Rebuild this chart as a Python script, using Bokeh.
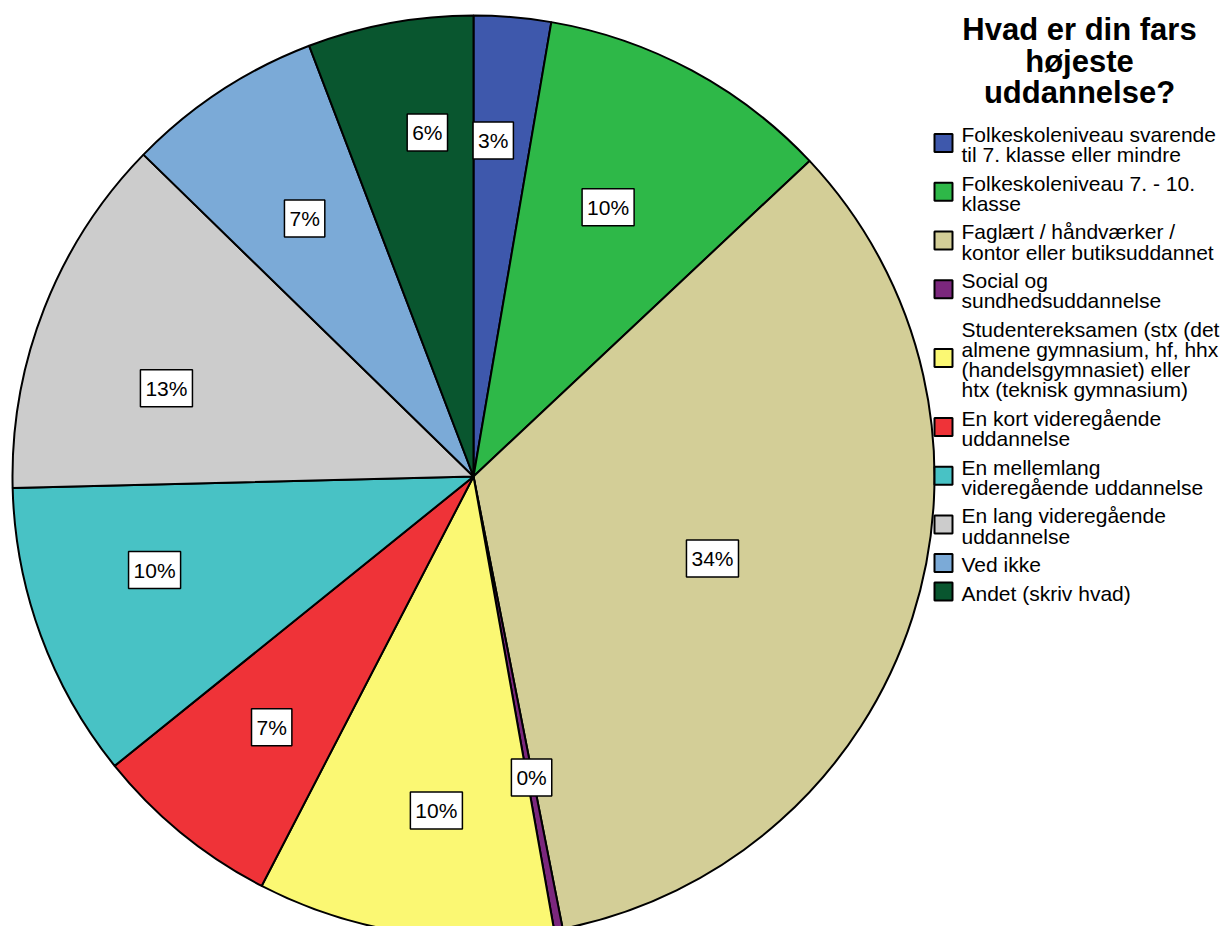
import math
from bokeh.plotting import figure
from bokeh.models import Range1d, Label, ColumnDataSource
from bokeh.core.properties import value
from bokeh.embed import file_html
from bokeh.resources import INLINE

# ---------------- data ----------------
title_lines = ["Hvad er din fars", "højeste", "uddannelse?"]
categories = [
    "Folkeskoleniveau svarende\ntil 7. klasse eller mindre",
    "Folkeskoleniveau 7. - 10.\nklasse",
    "Faglært / håndværker /\nkontor eller butiksuddannet",
    "Social og\nsundhedsuddannelse",
    "Studentereksamen (stx (det\nalmene gymnasium, hf, hhx\n(handelsgymnasiet) eller\nhtx (teknisk gymnasium)",
    "En kort videregående\nuddannelse",
    "En mellemlang\nvideregående uddannelse",
    "En lang videregående\nuddannelse",
    "Ved ikke",
    "Andet (skriv hvad)",
]
percentages = [2.7, 10.3, 33.9, 0.3, 10.4, 6.6, 10.4, 12.7, 6.9, 5.8]
colors = ["#3E58AC", "#2EB848", "#D3CE97", "#7B277D", "#FBF873",
          "#EF3338", "#48C2C5", "#CCCCCC", "#7BAAD7", "#09562F"]

# ---------------- layout ----------------
W, H = 1226, 926
PAGE_H = 930
FONT = "Liberation Sans"


def sy(y_screen):
    return PAGE_H - y_screen


CX, CY, R = 473, sy(476), 461
# label placement: radial fraction of R and angular nudge (degrees, clockwise) from slice middle
label_r = [0.730, 0.653, 0.548, 0.665, 0.729, 0.698, 0.721, 0.693, 0.669, 0.753]
label_nudge = [-1.5, -1.7, 1.1, -0.3, -2.3, -0.4, 3.8, -5.4, 0.1, 2.8]

p = figure(width=W, height=H, x_range=Range1d(0, W), y_range=Range1d(PAGE_H - H, PAGE_H),
           output_backend="svg", toolbar_location=None, min_border=0)
p.axis.visible = False
p.xgrid.visible = False
p.ygrid.visible = False
p.outline_line_color = None
p.background_fill_color = "white"

total = sum(percentages)
starts, ends, mids = [], [], []
cum = 0.0
for v in percentages:
    c0 = cum / total
    cum += v
    c1 = cum / total
    starts.append(math.pi / 2 - 2 * math.pi * c0)
    ends.append(math.pi / 2 - 2 * math.pi * c1)
    mids.append(math.pi / 2 - 2 * math.pi * (c0 + c1) / 2)

src = ColumnDataSource(dict(start=starts, end=ends, color=colors))
p.wedge(x=CX, y=CY, radius=R, start_angle="start", end_angle="end", direction="clock",
        fill_color="color", line_color="black", line_width=2, source=src)

for i, v in enumerate(percentages):
    rr = label_r[i] * R
    ang = mids[i] - math.radians(label_nudge[i])
    lx = CX + rr * math.cos(ang)
    ly = CY + rr * math.sin(ang)
    p.add_layout(Label(x=lx, y=ly, text=f"{round(v)}%", text_align="center", text_baseline="middle",
                       text_font=FONT, text_font_size="21px", text_color="black",
                       background_fill_color="white", border_line_color="black", border_line_width=1.5,
                       padding=dict(left=5, right=5, top=7, bottom=7)))

# title
title_baselines = [29, 60.5, 92]
p.text(x=[1079] * len(title_lines), y=[sy(b) for b in title_baselines], text=title_lines,
       text_font=value(FONT), text_font_style="bold", text_font_size="31px",
       text_align="center", text_baseline="alphabetic", text_color="black")

# legend
tx, ty, tt = [], [], []
swx, swy = [], []
base = 134.0
line_sp, gap = 20.2, 28.5
for cat in categories:
    lines = cat.split("\n")
    for j, ln in enumerate(lines):
        tx.append(961)
        ty.append(sy(base + j * line_sp))
        tt.append(ln)
    mid_b = base + (len(lines) - 1) * line_sp / 2
    swx.append(943)
    swy.append(sy(mid_b - 1.5))
    base = base + (len(lines) - 1) * line_sp + gap

p.rect(x=swx, y=swy, width=18, height=18, fill_color=colors, line_color="black", line_width=2)
p.text(x=tx, y=ty, text=tt, text_font=value(FONT), text_font_size="21px",
       text_align="left", text_baseline="alphabetic", text_color="black")

open("out.html", "w").write(file_html(p, INLINE))
